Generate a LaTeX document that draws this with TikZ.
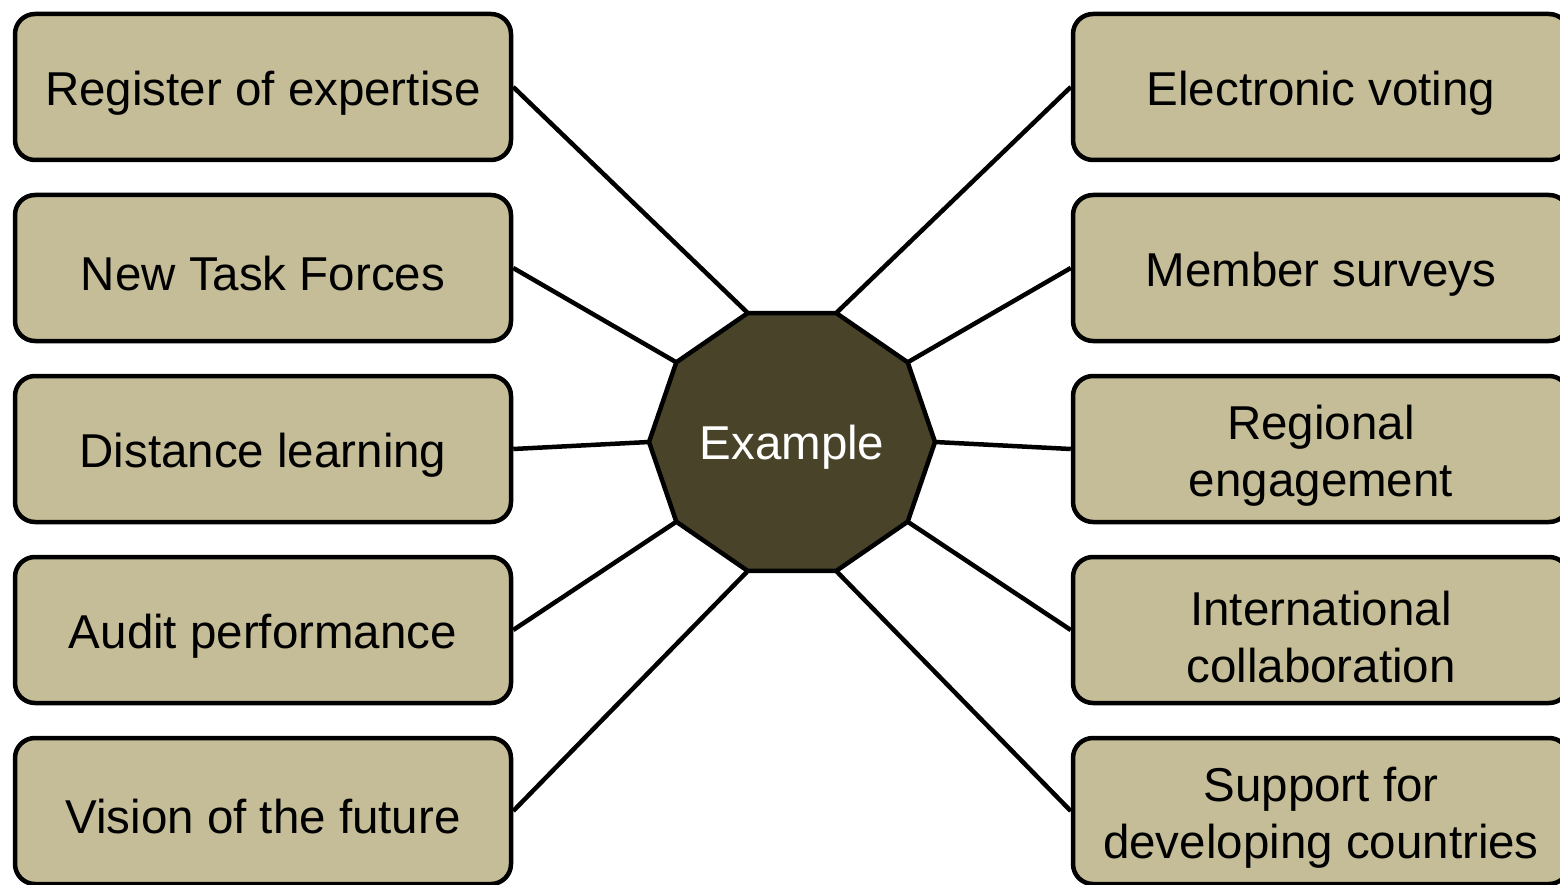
\documentclass[tikz,border=0pt]{standalone}
\usepackage{fontspec}
\setmainfont{Liberation Sans}
\definecolor{boxfill}{HTML}{C4BD97}
\definecolor{hubfill}{HTML}{494429}
\begin{document}
\begin{tikzpicture}[x=1pt,y=-1pt,
  box/.style={draw=black, line width=4.5pt, fill=boxfill, rounded corners=20pt,
    minimum width=496pt, minimum height=146pt, inner sep=0pt},
  lbl/.style={align=center, inner sep=0pt, font=\fontsize{47.5pt}{57pt}\selectfont},
  link/.style={draw=black, line width=4.5pt},
  hub/.style={text=white, font=\fontsize{47.5pt}{57pt}\selectfont}]
\useasboundingbox (0,0) rectangle (1560,885);
\clip (0,0) rectangle (1560,885);
% left boxes
\node[box] (L1) at (263,87)  {};
\node[box] (L2) at (263,268) {};
\node[box] (L3) at (263,449) {};
\node[box] (L4) at (263,630) {};
\node[box] (L5) at (263,811) {};
% right boxes
\node[box] (R1) at (1321,87)  {};
\node[box] (R2) at (1321,268) {};
\node[box] (R3) at (1321,449) {};
\node[box] (R4) at (1321,630) {};
\node[box] (R5) at (1321,811) {};
% labels
\node[lbl] (L1t) at (263,93)  {Register of expertise};
\node[lbl] (L2t) at (263,274) {New Task Forces};
\node[lbl] (L3t) at (263,455) {Distance learning};
\node[lbl] (L4t) at (263,636) {Audit performance};
\node[lbl] (L5t) at (263,817) {Vision of the future};
\node[lbl] (R1t) at (1321,93)  {Electronic voting};
\node[lbl] (R2t) at (1321,274) {Member surveys};
\node[lbl] (R3t) at (1321,456) {Regional\\engagement};
\node[lbl] (R4t) at (1321,637) {International\\collaboration};
\node[lbl] (R5t) at (1321,818) {Support for\\developing countries};
% decagon corners
\foreach \a in {0,36,...,324}
  \coordinate (v\a) at ({792+143*cos(\a)},{442-135.6*sin(\a)});
% connectors
\draw[link] (L1.east) -- (v108);
\draw[link] (L2.east) -- (v144);
\draw[link] (L3.east) -- (v180);
\draw[link] (L4.east) -- (v216);
\draw[link] (L5.east) -- (v252);
\draw[link] (R1.west) -- (v72);
\draw[link] (R2.west) -- (v36);
\draw[link] (R3.west) -- (v0);
\draw[link] (R4.west) -- (v324);
\draw[link] (R5.west) -- (v288);
% hub
\draw[fill=hubfill, line width=4.5pt, line join=miter]
  (v0) -- (v36) -- (v72) -- (v108) -- (v144) -- (v180) -- (v216) -- (v252) -- (v288) -- (v324) -- cycle;
\node[hub] (hubtext) at (792,447) {Example};
\end{tikzpicture}
\end{document}
